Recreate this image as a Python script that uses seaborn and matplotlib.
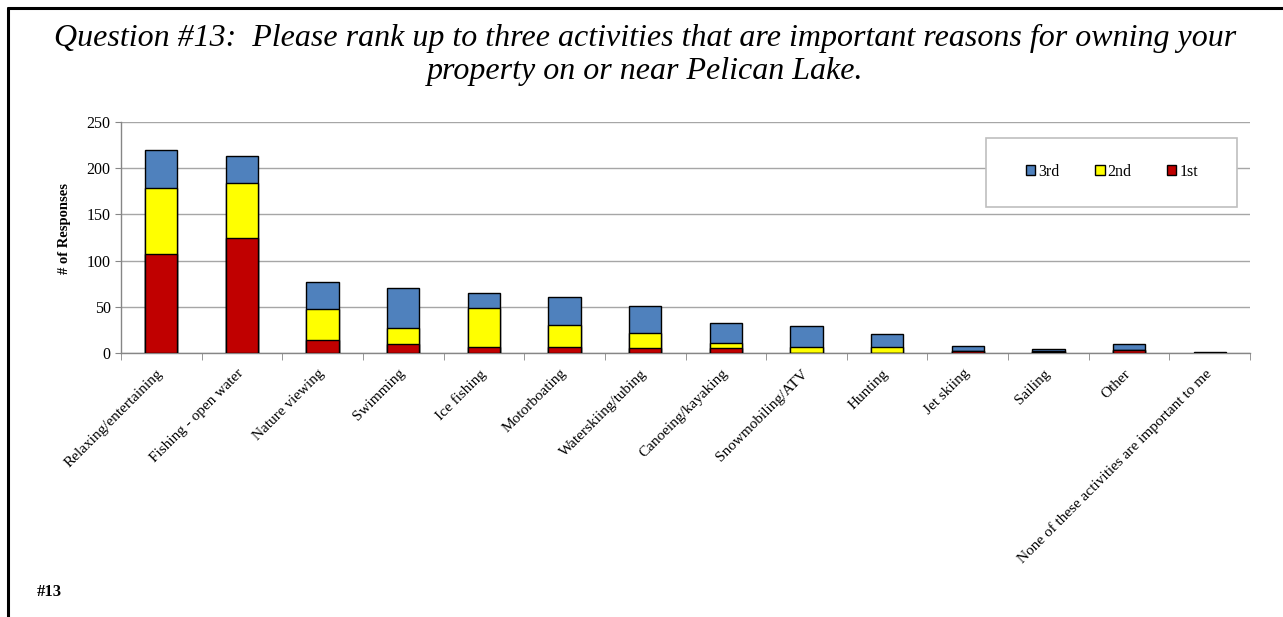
import numpy as np
import pandas as pd
import matplotlib
matplotlib.use('Agg')
import matplotlib.pyplot as plt
import matplotlib.transforms as mtransforms
import seaborn as sns
from matplotlib.patches import Patch, Rectangle
from matplotlib.lines import Line2D

# DATOS
actividades = ['Relaxing/entertaining', 'Fishing - open water', 'Nature viewing', 'Swimming',
               'Ice fishing', 'Motorboating', 'Waterskiing/tubing', 'Canoeing/kayaking',
               'Snowmobiling/ATV', 'Hunting', 'Jet skiing', 'Sailing', 'Other',
               'None of these activities are important to me']
primero = [107, 124, 14, 10, 7, 6, 5, 5, 0, 0, 2, 1, 3, 0]
segundo = [72, 60, 34, 17, 42, 24, 17, 6, 7, 7, 0, 1, 0, 0]
tercero = [41, 29, 29, 43, 16, 31, 29, 21, 22, 14, 6, 2, 7, 1]

df = pd.DataFrame({'actividad': actividades, 'p1': primero, 'p2': segundo, 'p3': tercero})
df['c2'] = df['p1'] + df['p2']
df['c3'] = df['c2'] + df['p3']

c_rojo = '#C00000'
c_amarillo = '#FFFF00'
c_azul = '#4F81BD'

sns.set_style('white')
plt.rcParams['font.family'] = ['Liberation Serif', 'DejaVu Serif']
plt.rcParams['text.color'] = 'black'
plt.rcParams['xtick.color'] = 'black'
plt.rcParams['ytick.color'] = 'black'
plt.rcParams['axes.labelcolor'] = 'black'

fig = plt.figure(figsize=(12.83, 6.17), dpi=100)
ax = fig.add_axes([121/1283, 1-353/617, (1250-121)/1283, (353-122)/617])

# barras apiladas: total, luego 1st+2nd, luego 1st
kw = dict(x='actividad', width=0.4, edgecolor='black', linewidth=1, ax=ax, zorder=3)
sns.barplot(data=df, y='c3', color=c_azul, saturation=1, **kw)
sns.barplot(data=df, y='c2', color=c_amarillo, saturation=1, **kw)
sns.barplot(data=df, y='p1', color=c_rojo, saturation=1, **kw)

ax.set_ylim(0, 250)
ax.set_yticks(range(0, 251, 50))
ax.set_xlim(-0.5, len(actividades)-0.5)
ax.yaxis.grid(True, color='#A6A6A6', linewidth=1, zorder=0)
ax.set_axisbelow(True)
for s in ['top', 'right']:
    ax.spines[s].set_visible(False)
for s in ['left', 'bottom']:
    ax.spines[s].set_color('#868686')
    ax.spines[s].set_linewidth(1)

ax.tick_params(axis='y', length=4, color='#868686', labelsize=11.5, left=True)
ax.set_xticks(range(len(actividades)))
ax.set_xticklabels(actividades, rotation=45, ha='right', va='top',
                   rotation_mode='anchor', fontsize=11)
ax.tick_params(axis='x', length=0, pad=10)
# pequeño desplazamiento a la izquierda de las etiquetas
desp = mtransforms.ScaledTranslation(-5/100, 0, fig.dpi_scale_trans)
for lbl in ax.get_xticklabels():
    lbl.set_transform(lbl.get_transform() + desp)
ax.set_xticks(np.arange(-0.5, len(actividades), 1), minor=True)
ax.tick_params(axis='x', which='minor', length=5, color='#868686', bottom=True)
ax.set_xlabel('')
ax.set_ylabel('# of Responses', fontsize=10.5, fontweight='bold')
ax.yaxis.set_label_coords(-0.044, 0.54)

# leyenda
rect = Rectangle((986/1283, 1-207/617), 251/1283, 69/617, transform=fig.transFigure,
                 facecolor='white', edgecolor='#BFBFBF', linewidth=1.2, zorder=4)
fig.add_artist(rect)
handles = [Patch(facecolor=c_azul, edgecolor='black'),
           Patch(facecolor=c_amarillo, edgecolor='black'),
           Patch(facecolor=c_rojo, edgecolor='black')]
fig.legend(handles, ['3rd', '2nd', '1st'], loc='center', ncol=3,
           bbox_to_anchor=(1112/1283, 1-172/617), frameon=False, fontsize=11.5,
           handlelength=0.6, handleheight=0.6, handletextpad=0.2, columnspacing=2.2)

# titulo
fig.text(0.503, 1-55/617,
         'Question #13:  Please rank up to three activities that are important reasons for owning your\nproperty on or near Pelican Lake.',
         ha='center', va='center', fontsize=23, style='italic', linespacing=1.22)
fig.text(37/1283, 1-592/617, '#13', ha='left', va='center', fontsize=12, fontweight='bold')

# marco
fig.add_artist(Line2D([8/1283, 1], [1-8/617, 1-8/617], color='black', linewidth=2.2,
                      transform=fig.transFigure))
fig.add_artist(Line2D([8/1283, 8/1283], [0, 1-8/617], color='black', linewidth=2.2,
                      transform=fig.transFigure))

fig.savefig('out.png', dpi=100)
